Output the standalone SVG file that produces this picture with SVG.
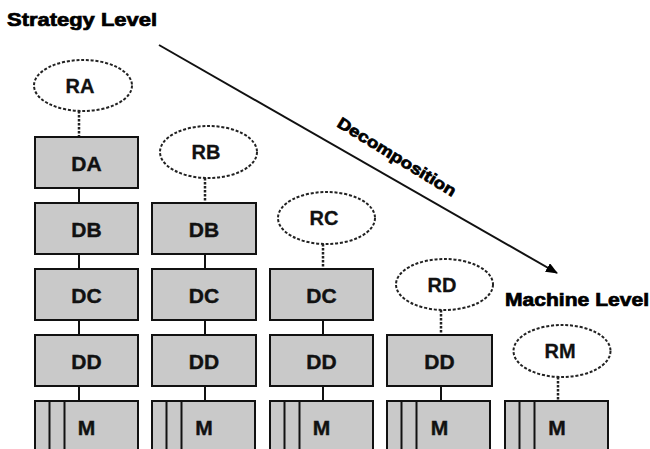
<svg xmlns="http://www.w3.org/2000/svg" width="650" height="449" viewBox="0 0 650 449">
  <defs>
    <style>
      .box { fill: #c9c9c9; stroke: #111; stroke-width: 2; }
      .role { fill: #fff; stroke: #222; stroke-width: 2; stroke-dasharray: 3 1.8; }
      .lbl { font-family: "Liberation Sans", Arial, sans-serif; font-weight: bold; font-size: 21px; fill: #111; stroke: #111; stroke-width: 0.4; text-anchor: middle; }
      .rlbl { font-family: "Liberation Sans", Arial, sans-serif; font-weight: bold; font-size: 20px; fill: #111; stroke: #111; stroke-width: 0.3; text-anchor: middle; }
      .head { font-family: "Liberation Sans", Arial, sans-serif; font-weight: bold; font-size: 18px; fill: #000; stroke: #000; stroke-width: 0.7; }
      .solid { stroke: #111; stroke-width: 2; fill: none; }
      .dot { stroke: #222; stroke-width: 2.5; stroke-dasharray: 2.5 1.5; fill: none; }
      .sep { stroke: #111; stroke-width: 2; }
    </style>
    <marker id="arrowhead" markerWidth="12" markerHeight="10" refX="11" refY="5" orient="auto" markerUnits="userSpaceOnUse">
      <path d="M0,0 L12,5 L0,10 Z" fill="#000"/>
    </marker>
    <symbol id="mbox" overflow="visible">
      <rect class="box" x="0" y="0" width="103" height="70"/>
      <line class="sep" x1="14.5" y1="0" x2="14.5" y2="70"/>
      <line class="sep" x1="29.5" y1="0" x2="29.5" y2="70"/>
    </symbol>
  </defs>

  <rect width="650" height="449" fill="#fff"/>

  <!-- level headings and decomposition arrow -->
  <text id="strategy-level" class="head" x="7" y="26" textLength="150" lengthAdjust="spacingAndGlyphs">Strategy Level</text>
  <text id="machine-level" class="head" x="505" y="306" textLength="144" lengthAdjust="spacingAndGlyphs">Machine Level</text>

  <g id="connectors">
    <line class="solid" x1="159" y1="45" x2="557" y2="273" marker-end="url(#arrowhead)"/>
    <!-- role-to-decision links (dotted) -->
    <line class="dot" x1="79" y1="111" x2="79" y2="137"/>
    <line class="dot" x1="205" y1="178" x2="205" y2="203"/>
    <line class="dot" x1="323" y1="244" x2="323" y2="269"/>
    <line class="dot" x1="441" y1="310" x2="441" y2="335"/>
    <line class="dot" x1="558" y1="377" x2="558" y2="401"/>
    <!-- chains between stacked boxes -->
    <line class="solid" x1="79" y1="188" x2="79" y2="203"/>
    <line class="solid" x1="79" y1="254" x2="79" y2="269"/>
    <line class="solid" x1="79" y1="320" x2="79" y2="335"/>
    <line class="solid" x1="79" y1="386" x2="79" y2="401"/>
    <line class="solid" x1="205" y1="254" x2="205" y2="269"/>
    <line class="solid" x1="205" y1="320" x2="205" y2="335"/>
    <line class="solid" x1="205" y1="386" x2="205" y2="401"/>
    <line class="solid" x1="323" y1="320" x2="323" y2="335"/>
    <line class="solid" x1="323" y1="386" x2="323" y2="401"/>
    <line class="solid" x1="441" y1="386" x2="441" y2="401"/>
  </g>

  <text id="decomposition" class="head" style="font-size:16px" transform="translate(336,126) rotate(31.5)" textLength="136" lengthAdjust="spacingAndGlyphs">Decomposition</text>

  <!-- column A -->
  <g id="RA"><ellipse class="role" cx="83" cy="85.5" rx="49" ry="25.5"/><text class="rlbl" x="80" y="92.5">RA</text></g>
  <g id="DA"><rect class="box" x="35" y="137" width="103" height="51"/><text class="lbl" x="86.5" y="170.5">DA</text></g>
  <g id="DB-1"><rect class="box" x="35" y="203" width="103" height="51"/><text class="lbl" x="86.5" y="236.5">DB</text></g>
  <g id="DC-1"><rect class="box" x="35" y="269" width="103" height="51"/><text class="lbl" x="86.5" y="302.5">DC</text></g>
  <g id="DD-1"><rect class="box" x="35" y="335" width="103" height="51"/><text class="lbl" x="86.5" y="368.5">DD</text></g>
  <g id="M-1"><use href="#mbox" x="35" y="401"/><text class="lbl" x="86.5" y="435">M</text></g>

  <!-- column B -->
  <g id="RB"><ellipse class="role" cx="208.5" cy="152" rx="48.5" ry="26"/><text class="rlbl" x="206" y="159">RB</text></g>
  <g id="DB-2"><rect class="box" x="152" y="203" width="104" height="51"/><text class="lbl" x="204" y="236.5">DB</text></g>
  <g id="DC-2"><rect class="box" x="152" y="269" width="104" height="51"/><text class="lbl" x="204" y="302.5">DC</text></g>
  <g id="DD-2"><rect class="box" x="152" y="335" width="104" height="51"/><text class="lbl" x="204" y="368.5">DD</text></g>
  <g id="M-2"><use href="#mbox" x="152" y="401"/><text class="lbl" x="204" y="435">M</text></g>

  <!-- column C -->
  <g id="RC"><ellipse class="role" cx="326.5" cy="218" rx="48.5" ry="26"/><text class="rlbl" x="324" y="225">RC</text></g>
  <g id="DC-3"><rect class="box" x="270" y="269" width="103" height="51"/><text class="lbl" x="321.5" y="302.5">DC</text></g>
  <g id="DD-3"><rect class="box" x="270" y="335" width="103" height="51"/><text class="lbl" x="321.5" y="368.5">DD</text></g>
  <g id="M-3"><use href="#mbox" x="270" y="401"/><text class="lbl" x="321.5" y="435">M</text></g>

  <!-- column D -->
  <g id="RD"><ellipse class="role" cx="444.5" cy="284.5" rx="48.5" ry="25.5"/><text class="rlbl" x="442" y="291.5">RD</text></g>
  <g id="DD-4"><rect class="box" x="387" y="335" width="105" height="51"/><text class="lbl" x="439.5" y="368.5">DD</text></g>
  <g id="M-4"><use href="#mbox" x="387" y="401"/><text class="lbl" x="439.5" y="435">M</text></g>

  <!-- machine column -->
  <g id="RM"><ellipse class="role" cx="562" cy="351" rx="48.5" ry="26"/><text class="rlbl" x="560" y="358">RM</text></g>
  <g id="M-5"><use href="#mbox" x="505" y="401"/><text class="lbl" x="557" y="435">M</text></g>
</svg>
